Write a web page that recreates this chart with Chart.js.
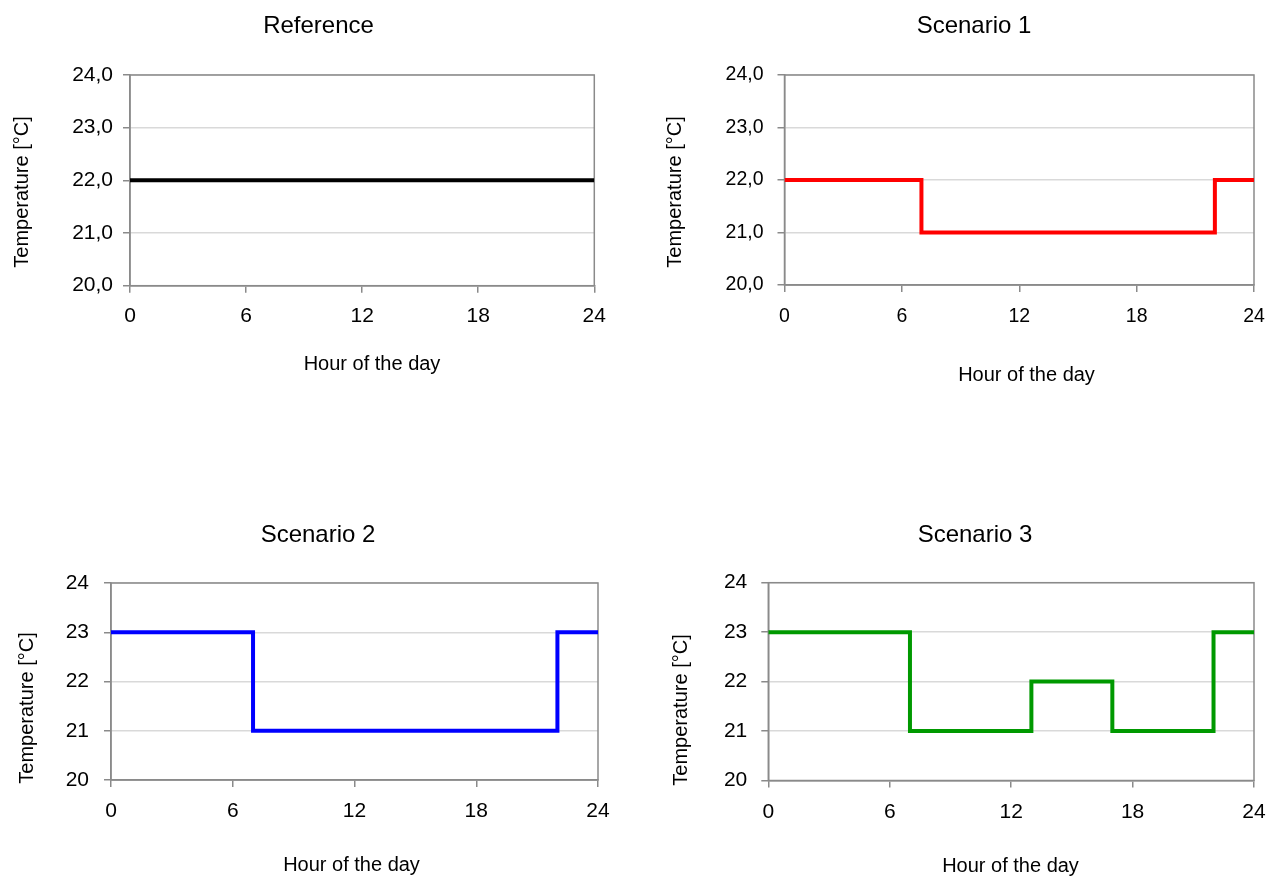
<!DOCTYPE html>
<html>
<head>
<meta charset="utf-8">
<script src="https://cdn.jsdelivr.net/npm/chart.js@4"></script>
<style>
  html, body { margin: 0; padding: 0; background: #fff; overflow: hidden; }
  #page { position: relative; width: 1272px; height: 882px; overflow: hidden; }
  .box { position: absolute; }
</style>
</head>
<body>
<div id="page">
  <div class="box" style="left:0;top:0;width:637px;height:441px"><canvas id="c0"></canvas></div>
  <div class="box" style="left:660px;top:0;width:630px;height:441px"><canvas id="c1"></canvas></div>
  <div class="box" style="left:0;top:441px;width:636px;height:441px"><canvas id="c2"></canvas></div>
  <div class="box" style="left:660px;top:441px;width:630px;height:441px"><canvas id="c3"></canvas></div>
</div>
<script>
// data
const xTicks = [0, 6, 12, 18, 24]
const yTicks = [20, 21, 22, 23, 24]

const hoursRef = [0, 24]
const tempRef = [22, 22]

const hoursS1 = [0, 7, 22, 24]
const tempS1 = [22, 21, 22, 22]

const hoursS2 = [0, 7, 22, 24]
const tempS2 = [23, 21, 23, 23]

const hoursS3 = [0, 7, 13, 17, 22, 24]
const tempS3 = [23, 21, 22, 21, 23, 23]

const xTitle = 'Hour of the day'
const yTitle = 'Temperature [°C]'

const axisGrey = '#8a8a8a'
const gridGrey = '#d9d9d9'
const fontFamily = '"Liberation Sans", Arial, sans-serif'

Chart.defaults.font.family = fontFamily
Chart.defaults.color = '#000'

// grey box round the plot area
const plotBorder = {
  id: 'plotBorder',
  beforeDatasetsDraw(chart) {
    const {ctx, chartArea: {left, top, width, height}} = chart
    ctx.save()
    ctx.strokeStyle = axisGrey
    ctx.lineWidth = 1.5
    ctx.strokeRect(left, top, width, height)
    ctx.restore()
  }
}

// panel title and axis titles, placed where the original has them
const panelText = {
  id: 'panelText',
  afterDraw(chart, args, options) {
    const {ctx} = chart
    const put = (text, x, y, size, rot) => {
      ctx.save()
      ctx.translate(x, y)
      if (rot) ctx.rotate(-Math.PI / 2)
      ctx.fillStyle = '#000'
      ctx.font = `normal ${size}px ${fontFamily}`
      ctx.textAlign = 'center'
      ctx.textBaseline = 'middle'
      ctx.fillText(text, 0, 0)
      ctx.restore()
    }
    put(options.title, options.title_at[0], options.title_at[1], 24, false)
    put(xTitle, options.x_at[0], options.x_at[1], 20, false)
    put(yTitle, options.y_at[0], options.y_at[1], 20, true)
  }
}

const oneDecimal = v => v.toFixed(1).replace('.', ',')
const noDecimal = v => String(v)

const drawChart = (id, title, hours, temps, color, fmt, o) => {
  new Chart(document.getElementById(id), {
    type: 'line',
    data: {
      datasets: [{
        data: hours.map((h, i) => ({x: h, y: temps[i]})),
        borderColor: color,
        borderWidth: 4,
        stepped: 'before',
        pointRadius: 0,
        fill: false
      }]
    },
    options: {
      responsive: true,
      maintainAspectRatio: false,
      animation: false,
      layout: {
        padding: {left: 0, right: o.padRight, top: o.padTop, bottom: 0}
      },
      plugins: {
        legend: {display: false},
        tooltip: {enabled: false},
        title: {display: false},
        panelText: {title: title, title_at: o.titleAt, x_at: o.xTitleAt, y_at: o.yTitleAt}
      },
      scales: {
        x: {
          type: 'linear',
          min: 0,
          max: 24,
          afterBuildTicks(scale) { scale.ticks = xTicks.map(v => ({value: v})) },
          afterFit(scale) { scale.height = o.xAxisHeight },
          grid: {
            drawOnChartArea: false,
            drawTicks: true,
            tickLength: 7,
            color: axisGrey,
            tickColor: axisGrey,
            lineWidth: 1.5
          },
          border: {color: axisGrey, width: 1.5},
          ticks: {
            color: '#000',
            font: {size: o.tickSize},
            padding: o.xTickPad,
            maxRotation: 0
          }
        },
        y: {
          min: 20,
          max: 24,
          afterBuildTicks(scale) { scale.ticks = yTicks.map(v => ({value: v})) },
          afterFit(scale) { scale.width = o.yAxisWidth },
          grid: {
            color: gridGrey,
            tickColor: axisGrey,
            tickLength: 7,
            lineWidth: 1.5
          },
          border: {color: axisGrey, width: 1.5},
          ticks: {
            color: '#000',
            font: {size: o.tickSize},
            padding: o.yTickPad,
            callback: fmt
          }
        }
      }
    },
    plugins: [plotBorder, panelText]
  })
}

drawChart('c0', 'Reference', hoursRef, tempRef, '#000000', oneDecimal, {
  titleAt: [318.5, 26], xTitleAt: [372, 364], yTitleAt: [22, 192],
  padTop: 75, padRight: 42.7, xAxisHeight: 155.3, yAxisWidth: 130,
  tickSize: 21, xTickPad: 10.7, yTickPad: 10
})
drawChart('c1', 'Scenario 1', hoursS1, tempS1, '#ff0000', oneDecimal, {
  titleAt: [314, 26.5], xTitleAt: [366.5, 375], yTitleAt: [15.5, 192],
  padTop: 75, padRight: 36, xAxisHeight: 156, yAxisWidth: 124.5,
  tickSize: 19.5, xTickPad: 13.3, yTickPad: 14
})
drawChart('c2', 'Scenario 2', hoursS2, tempS2, '#0000ff', noDecimal, {
  titleAt: [318, 94], xTitleAt: [351.5, 424.5], yTitleAt: [27.5, 267],
  padTop: 142, padRight: 38, xAxisHeight: 102, yAxisWidth: 111,
  tickSize: 21, xTickPad: 11.4, yTickPad: 15
})
drawChart('c3', 'Scenario 3', hoursS3, tempS3, '#009900', noDecimal, {
  titleAt: [315, 94.5], xTitleAt: [350.5, 425], yTitleAt: [21, 269],
  padTop: 141.7, padRight: 36, xAxisHeight: 101.5, yAxisWidth: 108.3,
  tickSize: 21, xTickPad: 12.4, yTickPad: 14
})
</script>
</body>
</html>
